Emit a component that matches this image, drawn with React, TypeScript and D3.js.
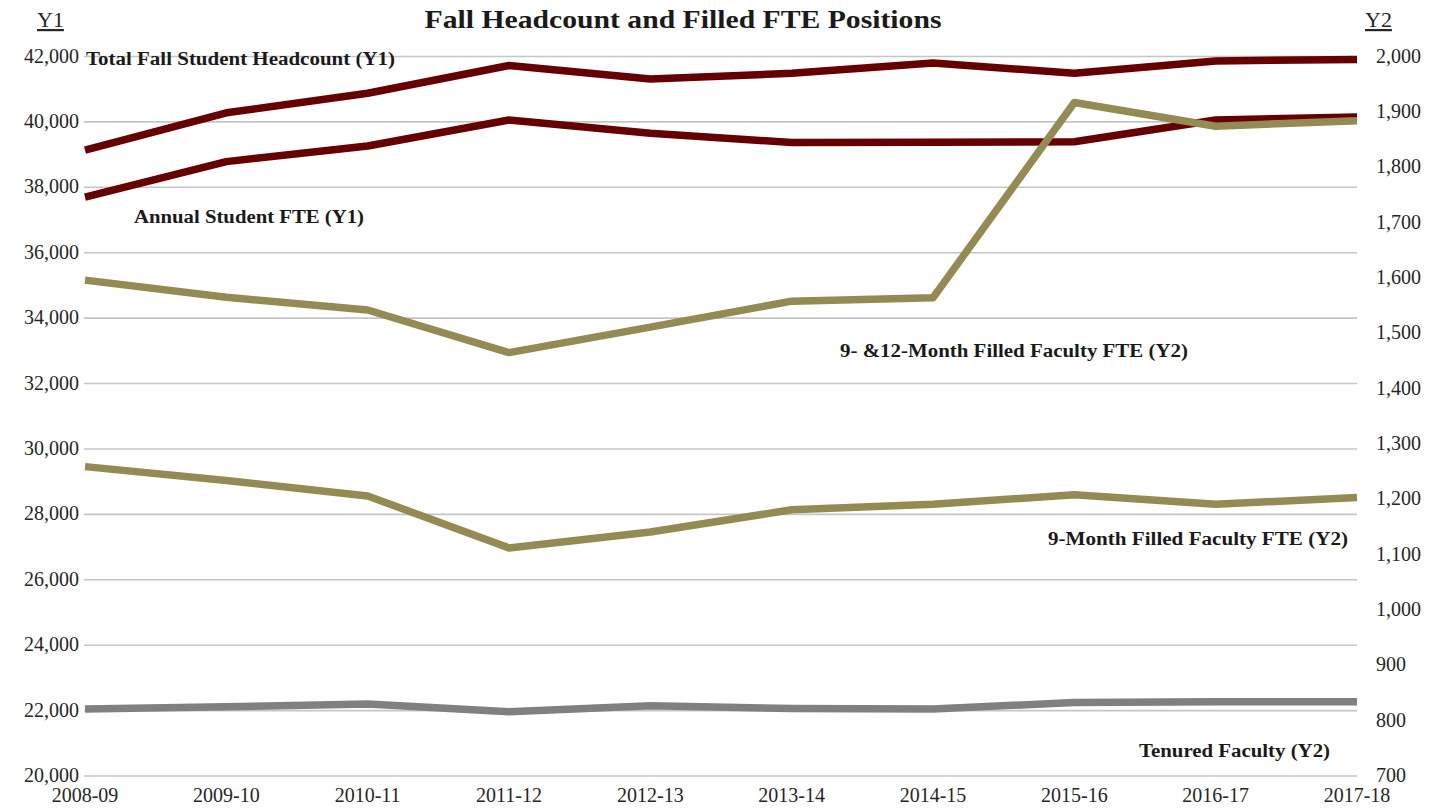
import React from "react";
import * as d3 from "d3";

const categories = ["2008-09","2009-10","2010-11","2011-12","2012-13","2013-14","2014-15","2015-16","2016-17","2017-18"];
const headcount = [39140, 40280, 40875, 41725, 41310, 41485, 41800, 41485, 41865, 41910];
const studentFte = [37700, 38785, 39265, 40060, 39650, 39370, 39375, 39395, 40060, 40150];
const faculty912 = [1596, 1565, 1542, 1465, 1511, 1558, 1564, 1917, 1874, 1884];
const faculty9 = [1259, 1234, 1206, 1112, 1141, 1181, 1191, 1208, 1191, 1203];
const tenured = [821, 825, 830, 816, 827, 822, 821, 833, 834, 834];
const y1Ticks = d3.range(20000, 42001, 2000);
const y2Ticks = d3.range(700, 2001, 100);

const W = 1439, H = 809;
const left = 85, right = 1357, top = 56.5, bottom = 776;
const font = "Liberation Serif, DejaVu Serif, serif";

export default function App() {
  const x = d3.scalePoint<string>().domain(categories).range([left, right]);
  const y1 = d3.scaleLinear().domain([20000, 42000]).range([bottom, top]);
  const y2 = d3.scaleLinear().domain([700, 2000]).range([bottom, top]);
  const fmt = d3.format(",");
  const line1 = d3.line<number>().x((_, i) => x(categories[i])!).y(d => y1(d));
  const line2 = d3.line<number>().x((_, i) => x(categories[i])!).y(d => y2(d));

  const series = [
    { d: line2(tenured), c: "#808080" },
    { d: line2(faculty9), c: "#948A54" },
    { d: line1(studentFte), c: "#660000" },
    { d: line1(headcount), c: "#660000" },
    { d: line2(faculty912), c: "#948A54" },
  ];

  const labels = [
    { t: "Total Fall Student Headcount (Y1)", x: 86, y: 65, w: 309 },
    { t: "Annual Student FTE (Y1)", x: 134, y: 223, w: 230 },
    { t: "9- &12-Month Filled Faculty FTE (Y2)", x: 840, y: 357, w: 348 },
    { t: "9-Month Filled Faculty FTE (Y2)", x: 1048, y: 545, w: 300 },
    { t: "Tenured Faculty (Y2)", x: 1139, y: 757, w: 191 },
  ];

  const ts = { fontFamily: font };

  return (
    <svg width={W} height={H} style={{ position: "absolute", left: 0, top: 0, display: "block", background: "#fff", fontFamily: font }}>
      <rect width={W} height={H} fill="#fff" />
      {y1Ticks.map(t => (
        <line key={t} x1={84} x2={1357} y1={y1(t)} y2={y1(t)} stroke="#c6c6c6" strokeWidth={1.6} />
      ))}
      {y1Ticks.map(t => (
        <text key={"l" + t} style={ts} x={79} y={y1(t) + 6} textAnchor="end" fontSize={20} fill="#262626">{fmt(t)}</text>
      ))}
      {y2Ticks.map(t => (
        <text key={"r" + t} style={ts} x={1376} y={y2(t) + 6} textAnchor="start" fontSize={20} fill="#262626">{fmt(t)}</text>
      ))}
      {categories.map(c => (
        <text key={c} style={ts} x={x(c)!} y={802} textAnchor="middle" fontSize={20} fill="#262626">{c}</text>
      ))}
      {series.map((s, i) => (
        <path key={i} d={s.d!} fill="none" stroke={s.c} strokeWidth={7.5} strokeLinejoin="round" />
      ))}
      {labels.map(l => (
        <text key={l.t} style={ts} x={l.x} y={l.y} fontSize={18} fontWeight="bold" fill="#1a1a1a" textLength={l.w} lengthAdjust="spacingAndGlyphs">{l.t}</text>
      ))}
      <text style={ts} x={683} y={28} textAnchor="middle" fontSize={25} fontWeight="bold" fill="#1a1a1a" textLength={517} lengthAdjust="spacingAndGlyphs">Fall Headcount and Filled FTE Positions</text>
      <text style={ts} x={37} y={27} fontSize={22} fill="#262626" textDecoration="underline">Y1</text>
      <text style={ts} x={1365} y={27} fontSize={22} fill="#262626" textDecoration="underline">Y2</text>
    </svg>
  );
}
